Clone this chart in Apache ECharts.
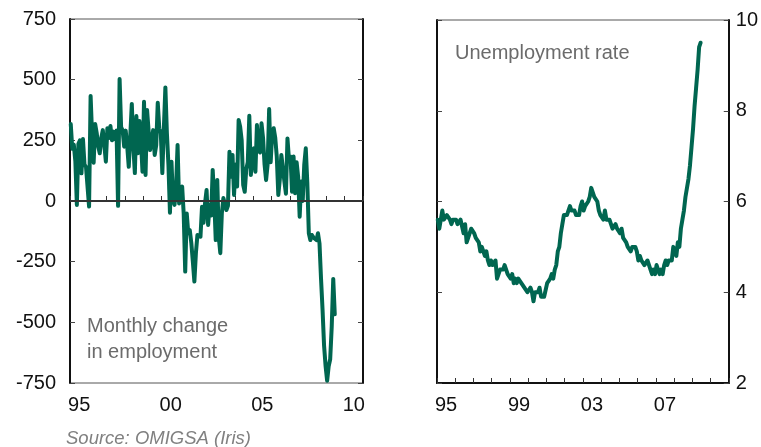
<!DOCTYPE html>
<html>
<head>
<meta charset="utf-8">
<script src="https://cdn.jsdelivr.net/npm/echarts@6/dist/echarts.min.js"></script>
<style>
  html, body { margin: 0; padding: 0; background: #ffffff; }
  #chart { width: 761px; height: 447px; }
</style>
</head>
<body>
<div id="chart"></div>
<script>
// Monthly series start in January of this year; each point sits mid-month.
const START_YEAR = 1995;

// Monthly change in non-farm employment, thousands (Jan 1995 - Jun 2009)
const payrollChange = [
  317, 215, 232, 165, -16, 236, 250, 114, 255, 150, 140, 145,      // 1995
  -23, 433, 270, 158, 317, 280, 224, 197, 260, 292, 230, 162,      // 1996
  300, 260, 309, 250, 286, 255, 290, -20, 503, 305, 290, 224,      // 1997
  290, 224, 141, 270, 400, 224, 115, 350, 197, 330, 250, 121,      // 1998
  409, 107, 375, 290, 210, 250, 292, 190, 230, 405, 300, 279,      // 1999
  115, 300, 468, 279, 150, -48, 162, 4, -16, 60, 231, -10,         // 2000
  45, 59, -51, -291, -51, -133, -120, -173, -250, -332, -215, -140, // 2001
  -135, -147, -24, -90, -8, 45, -99, -15, -60, 128, 10, -161,      // 2002
  87, -150, -215, -51, 12, 18, -37, -20, 203, 100, 190, 25,        // 2003
  150, 60, 334, 306, 250, 66, 38, 130, 160, 351, 107, 190,         // 2004
  217, 121, 313, 210, 200, 320, 260, 150, 86, 150, 379, 160,       // 2005
  280, 300, 260, 183, 25, 90, 190, 183, 80, 30, 258, 170,          // 2006
  183, 38, 183, 32, 160, 100, -65, 80, 0, 150, 217, 77,            // 2007
  -133, -161, -140, -150, -150, -161, -133, -175, -321, -449, -597, -681, // 2008
  -741, -681, -652, -519, -321, -467                               // 2009
];

// Unemployment rate, % (Jan 1995 - Jun 2009)
const unemploymentRate = [
  5.6, 5.4, 5.4, 5.8, 5.6, 5.6, 5.7, 5.7, 5.6, 5.5, 5.6, 5.6, // 1995
  5.6, 5.5, 5.5, 5.6, 5.6, 5.3, 5.5, 5.1, 5.2, 5.2, 5.4, 5.4, // 1996
  5.3, 5.2, 5.2, 5.1, 4.9, 5.0, 4.9, 4.8, 4.9, 4.7, 4.6, 4.7, // 1997
  4.6, 4.6, 4.7, 4.3, 4.4, 4.5, 4.5, 4.5, 4.6, 4.5, 4.4, 4.4, // 1998
  4.3, 4.4, 4.2, 4.3, 4.2, 4.3, 4.3, 4.2, 4.2, 4.1, 4.1, 4.0, // 1999
  4.0, 4.1, 4.0, 3.8, 4.0, 4.0, 4.0, 4.1, 3.9, 3.9, 3.9, 3.9, // 2000
  4.2, 4.2, 4.3, 4.4, 4.3, 4.5, 4.6, 4.9, 5.0, 5.3, 5.5, 5.7, // 2001
  5.7, 5.7, 5.7, 5.9, 5.8, 5.8, 5.8, 5.7, 5.7, 5.7, 5.9, 6.0, // 2002
  5.8, 5.9, 5.9, 6.0, 6.1, 6.3, 6.2, 6.1, 6.1, 6.0, 5.8, 5.7, // 2003
  5.7, 5.6, 5.8, 5.6, 5.6, 5.6, 5.5, 5.4, 5.4, 5.5, 5.4, 5.4, // 2004
  5.3, 5.4, 5.2, 5.2, 5.1, 5.0, 5.0, 4.9, 5.0, 5.0, 5.0, 4.9, // 2005
  4.7, 4.8, 4.7, 4.7, 4.6, 4.6, 4.7, 4.7, 4.5, 4.4, 4.5, 4.4, // 2006
  4.6, 4.5, 4.4, 4.5, 4.4, 4.6, 4.7, 4.6, 4.7, 4.7, 4.7, 5.0, // 2007
  5.0, 4.8, 5.1, 5.0, 5.4, 5.6, 5.8, 6.1, 6.1, 6.5, 6.8, 7.2, // 2008
  7.6, 8.1, 8.5, 8.9, 9.4, 9.5                                // 2009
];

// Years whose two-digit label is printed under each panel
const leftLabelYears = [1995, 2000, 2005, 2010];
const rightLabelYears = [1995, 1999, 2003, 2007];

const FONT = 'Liberation Sans, Arial, sans-serif';
const GREEN = '#006650';
const AXIS_DARK = '#111111';

const toPoints = (vals) => vals.map((v, i) => [START_YEAR + (i + 0.5) / 12, v]);
const twoDigit = (v) => String(Math.floor(v)).slice(2);

function timeAxis(gridIndex, labelYears) {
  return {
    type: 'value', gridIndex: gridIndex,
    min: 1995, max: 2011, interval: 1,
    axisLine: { show: true, lineStyle: { color: AXIS_DARK, width: 2 } },
    axisTick: { show: true, inside: true, length: 5, lineStyle: { color: '#333', width: 1 } },
    splitLine: { show: false },
    axisLabel: {
      show: true,
      customValues: labelYears.map(y => y + 0.5),
      formatter: twoDigit,
      color: '#111', fontFamily: FONT, fontSize: 20, margin: 12
    }
  };
}

function valueAxis(gridIndex, position, min, max, interval, showLabels, margin) {
  return {
    type: 'value', gridIndex: gridIndex, position: position,
    min: min, max: max, interval: interval,
    axisLine: { show: true, onZero: false, lineStyle: { color: AXIS_DARK, width: 2 } },
    axisTick: { show: true, inside: true, length: 5, lineStyle: { color: '#444', width: 1 } },
    splitLine: { show: false },
    axisLabel: {
      show: showLabels, color: '#111', fontFamily: FONT, fontSize: 20, margin: margin,
      align: position === 'left' ? 'right' : 'left'
    }
  };
}

const chart = echarts.init(document.getElementById('chart'), null, { renderer: 'canvas' });

chart.setOption({
  animation: false,
  backgroundColor: '#ffffff',
  grid: [
    { left: 70, top: 19, width: 293, height: 364, show: true, borderColor: '#555', borderWidth: 1 },
    { left: 437, top: 20, width: 292, height: 363, show: true, borderColor: '#555', borderWidth: 1 }
  ],
  xAxis: [
    timeAxis(0, leftLabelYears),
    timeAxis(1, rightLabelYears)
  ],
  yAxis: [
    valueAxis(0, 'left', -750, 750, 250, true, 14),
    valueAxis(0, 'right', -750, 750, 250, false, 8),
    valueAxis(1, 'left', 2, 10, 2, false, 8),
    valueAxis(1, 'right', 2, 10, 2, true, 7)
  ],
  series: [
    {
      type: 'line', xAxisIndex: 0, yAxisIndex: 0,
      data: toPoints(payrollChange),
      showSymbol: false, symbol: 'none',
      lineStyle: { color: GREEN, width: 4, cap: 'round', join: 'round' },
      markLine: {
        silent: true, symbol: 'none', animation: false,
        label: { show: false },
        lineStyle: { color: '#333', width: 2, type: 'solid' },
        data: [{ yAxis: 0 }]
      },
      z: 3
    },
    {
      type: 'line', xAxisIndex: 1, yAxisIndex: 3,
      data: toPoints(unemploymentRate),
      showSymbol: false, symbol: 'none',
      lineStyle: { color: GREEN, width: 4, cap: 'round', join: 'round' },
      z: 3
    }
  ],
  graphic: [
    { type: 'text', left: 87, top: 313, style: { text: 'Monthly change\nin employment', fill: '#6b6b6b', font: '20px ' + FONT, lineHeight: 26 } },
    { type: 'text', left: 455, top: 43, style: { text: 'Unemployment rate', fill: '#6b6b6b', font: '20px ' + FONT } },
    { type: 'text', left: 66, top: 429, style: { text: 'Source: OMIGSA (Iris)', fill: '#808080', font: 'italic 18.5px ' + FONT } }
  ]
});
</script>
</body>
</html>
